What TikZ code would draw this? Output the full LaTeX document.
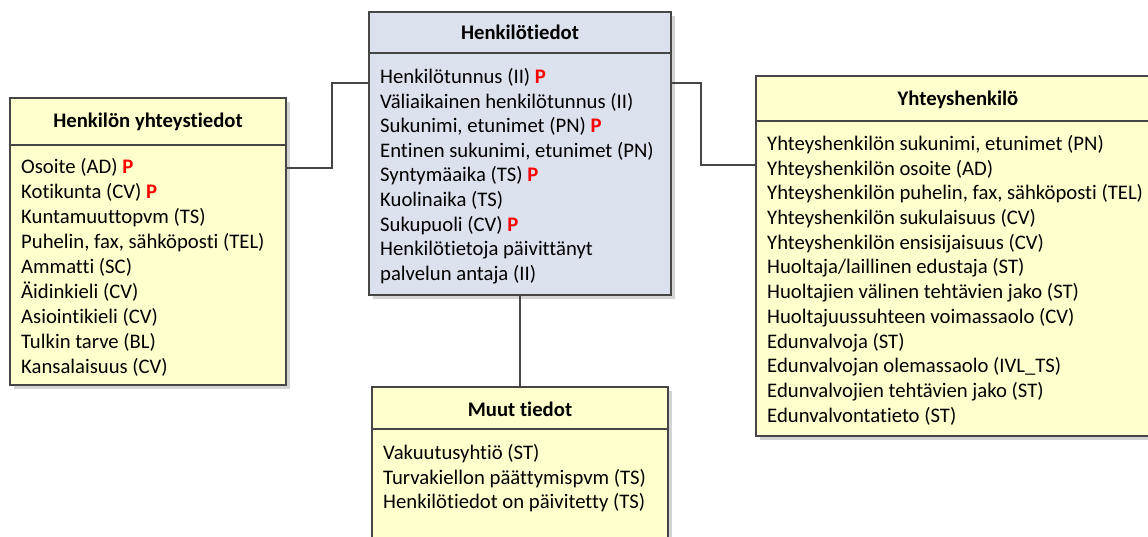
\documentclass[tikz,border=0pt]{standalone}
\usepackage{fontspec}
\setmainfont{Carlito}[Ligatures=NoCommon]
\definecolor{bluefill}{RGB}{220,225,238}
\definecolor{yellowfill}{RGB}{255,255,206}
\definecolor{edgegray}{RGB}{70,70,70}
\definecolor{shadowgray}{RGB}{212,212,212}
\definecolor{pkred}{RGB}{255,0,0}
\newcommand{\pk}{\textcolor{pkred}{\textbf{P}}}
\begin{document}
\begin{tikzpicture}[x=1pt,y=-1pt,
  entity/.style={draw=edgegray, line width=1.3pt, anchor=north west,
    inner sep=0pt, outer sep=0pt},
  shade/.style={fill=shadowgray},
  divider/.style={draw=edgegray, line width=1.3pt},
  title/.style={anchor=base, inner sep=0pt, font=\fontsize{20.7}{24}\selectfont\bfseries},
  row/.style={anchor=base west, inner sep=0pt, font=\fontsize{20.7}{24}\selectfont},
  link/.style={draw=edgegray, line width=2.4pt}
]
\useasboundingbox (0,0) rectangle (1148,537);
\clip (0,0) rectangle (1148,537);

% drop shadows
\fill[shade] (373,16) rectangle (675,299);
\fill[shade] (14,102) rectangle (290,389);
\fill[shade] (760,80) rectangle (1164,440);
\fill[shade] (376,391) rectangle (672,560);

% Henkilötiedot
\node[entity, fill=bluefill, minimum width=302pt, minimum height=283pt] (hbox) at (369,12) {};
\draw[divider] ([yshift=-41pt]hbox.north west) -- ([yshift=-41pt]hbox.north east);
\node[title] (htitle) at (520,40) {Henkilötiedot};
\foreach \t [count=\i] in {%
  {Henkilötunnus (II) \pk},
  {Väliaikainen henkilötunnus (II)},
  {Sukunimi, etunimet (PN) \pk},
  {Entinen sukunimi, etunimet (PN)},
  {Syntymäaika (TS) \pk},
  {Kuolinaika (TS)},
  {Sukupuoli (CV) \pk},
  {Henkilötietoja päivittänyt},
  {palvelun antaja (II)}}
  \node[row] (h\i) at (380,{83.5+(\i-1)*24.6}) {\t};

% Henkilön yhteystiedot
\node[entity, fill=yellowfill, minimum width=276pt, minimum height=287pt] (lbox) at (10,98) {};
\draw[divider] ([yshift=-47pt]lbox.north west) -- ([yshift=-47pt]lbox.north east);
\node[title] (ltitle) at (148,128) {Henkilön yhteystiedot};
\foreach \t [count=\i] in {%
  {Osoite (AD) \pk},
  {Kotikunta (CV) \pk},
  {Kuntamuuttopvm (TS)},
  {Puhelin, fax, sähköposti (TEL)},
  {Ammatti (SC)},
  {Äidinkieli (CV)},
  {Asiointikieli (CV)},
  {Tulkin tarve (BL)},
  {Kansalaisuus (CV)}}
  \node[row] (l\i) at (21,{173.5+(\i-1)*25}) {\t};

% Yhteyshenkilö
\node[entity, fill=yellowfill, minimum width=404pt, minimum height=360pt] (rbox) at (756,76) {};
\draw[divider] ([yshift=-45pt]rbox.north west) -- ([yshift=-45pt]rbox.north east);
\node[title] (rtitle) at (958,106) {Yhteyshenkilö};
\foreach \t [count=\i] in {%
  {Yhteyshenkilön sukunimi, etunimet (PN)},
  {Yhteyshenkilön osoite (AD)},
  {Yhteyshenkilön puhelin, fax, sähköposti (TEL)},
  {Yhteyshenkilön sukulaisuus (CV)},
  {Yhteyshenkilön ensisijaisuus (CV)},
  {Huoltaja/laillinen edustaja (ST)},
  {Huoltajien välinen tehtävien jako (ST)},
  {Huoltajuussuhteen voimassaolo (CV)},
  {Edunvalvoja (ST)},
  {Edunvalvojan olemassaolo (IVL\_TS)},
  {Edunvalvojien tehtävien jako (ST)},
  {Edunvalvontatieto (ST)}}
  \node[row] (r\i) at (767,{150.5+(\i-1)*24.7}) {\t};

% Muut tiedot
\node[entity, fill=yellowfill, minimum width=296pt, minimum height=170pt] (mbox) at (372,387) {};
\draw[divider] ([yshift=-42pt]mbox.north west) -- ([yshift=-42pt]mbox.north east);
\node[title] (mtitle) at (520,416) {Muut tiedot};
\foreach \t [count=\i] in {%
  {Vakuutusyhtiö (ST)},
  {Turvakiellon päättymispvm (TS)},
  {Henkilötiedot on päivitetty (TS)}}
  \node[row] (m\i) at (383,{459.5+(\i-1)*24.6}) {\t};

% relationships
\draw[link] ([yshift=-70pt]lbox.north east) -- ++(46,0) |- ([yshift=-71pt]hbox.north west);
\draw[link] ([yshift=-71pt]hbox.north east) -- ++(30,0) |- ([yshift=-89pt]rbox.north west);
\draw[link] (hbox.south) -- (mbox.north);
\end{tikzpicture}
\end{document}
